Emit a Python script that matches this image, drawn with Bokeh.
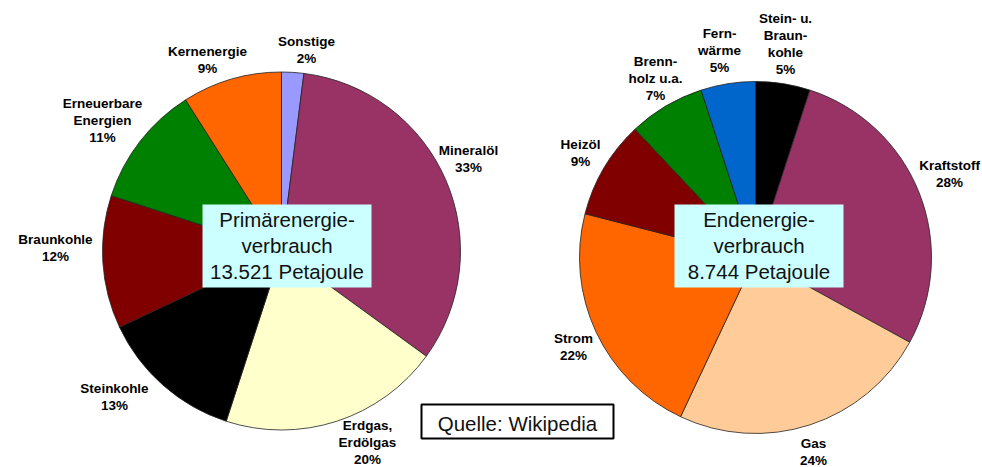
import math
from bokeh.plotting import figure
from bokeh.models import Range1d, ColumnDataSource
from bokeh.core.properties import value
from bokeh.embed import file_html
from bokeh.resources import INLINE

# ---------------- data ----------------
primary_categories = ["Sonstige", "Mineralöl", "Erdgas,\nErdölgas", "Steinkohle",
                      "Braunkohle", "Erneuerbare\nEnergien", "Kernenergie"]
primary_shares = [2, 33, 20, 13, 12, 11, 9]
primary_colors = ["#9999FF", "#993366", "#FFFFCC", "#000000", "#800000", "#008000", "#FF6600"]
primary_title = ["Primärenergie-", "verbrauch", "13.521 Petajoule"]

final_categories = ["Stein- u.\nBraun-\nkohle", "Kraftstoff", "Gas", "Strom", "Heizöl",
                    "Brenn-\nholz u.a.", "Fern-\nwärme"]
final_shares = [5, 28, 24, 22, 9, 7, 5]
final_colors = ["#000000", "#993366", "#FFCC99", "#FF6600", "#800000", "#008000", "#0066CC"]
final_title = ["Endenergie-", "verbrauch", "8.744 Petajoule"]

source_note = "Quelle: Wikipedia"

# ---------------- layout (pixel positions, y measured from top) ----------------
W, H = 982, 467
def Y(py):
    return H - py

primary_center = (281, 250.5)
primary_radius = 179
final_center = (755, 257)
final_radius = 176

primary_label_pos = [(306, 49.5), (468, 158.5), (367, 442), (114, 396),
                     (55, 247.5), (102, 120), (207, 59.5)]
final_label_pos = [(785, 43), (949, 173), (813, 451), (573, 346.5),
                   (580, 152), (655, 78), (719, 49.5)]

LABEL_FONT = value("Liberation Sans")
MAIN_FONT = value("Liberation Sans")

p = figure(width=W, height=H, x_range=Range1d(0, W), y_range=Range1d(0, H),
           output_backend="svg", toolbar_location=None, min_border=0,
           x_axis_location=None, y_axis_location=None)
p.grid.visible = False
p.outline_line_color = None
p.background_fill_color = "white"
p.border_fill_color = "white"


def draw_pie(center, radius, cats, shares, colors, label_pos):
    total = float(sum(shares))
    starts, ends = [], []
    cum = 0.0
    for s in shares:
        starts.append(math.pi / 2 - 2 * math.pi * cum / total)
        cum += s
        ends.append(math.pi / 2 - 2 * math.pi * cum / total)
    src = ColumnDataSource(dict(x=[center[0]] * len(shares), y=[Y(center[1])] * len(shares),
                                start=starts, end=ends, color=colors))
    p.wedge(x="x", y="y", radius=radius, start_angle="start", end_angle="end",
            direction="clock", fill_color="color", line_color="#222222",
            line_width=0.8, source=src)
    # labels
    xs, ys, txt = [], [], []
    for cat, share, (cx, cy) in zip(cats, shares, label_pos):
        lines = (cat + "\n" + f"{share}%").split("\n")
        n = len(lines)
        for i, line in enumerate(lines):
            lc = cy - (n - 1) * 8.5 + i * 17
            xs.append(cx)
            ys.append(Y(lc))
            txt.append(line)
    p.text(x=xs, y=ys, text=txt, text_font=LABEL_FONT, text_font_style="bold",
           text_font_size="13.5px", text_align="center", text_baseline="middle",
           text_color="#000000")


draw_pie(primary_center, primary_radius, primary_categories, primary_shares,
         primary_colors, primary_label_pos)
draw_pie(final_center, final_radius, final_categories, final_shares,
         final_colors, final_label_pos)

# title boxes
for (l, r), title in [((202, 371), primary_title), ((674, 843), final_title)]:
    p.quad(left=l, right=r, top=Y(204), bottom=Y(287), fill_color="#CCFFFF", line_color=None)
    cx = (l + r) / 2
    p.text(x=[cx] * 3, y=[Y(218.5), Y(244.5), Y(270.5)], text=title, text_font=MAIN_FONT,
           text_font_size="20.5px", text_align="center", text_baseline="middle",
           text_color="#111111")

# source box
p.quad(left=421, right=613, top=Y(404), bottom=Y(438), fill_color="white",
       line_color="black", line_width=2)
p.text(x=[517], y=[Y(422.5)], text=[source_note], text_font=MAIN_FONT,
       text_font_size="20.5px", text_align="center", text_baseline="middle",
       text_color="#111111")

open("out.html", "w").write(file_html(p, INLINE))
